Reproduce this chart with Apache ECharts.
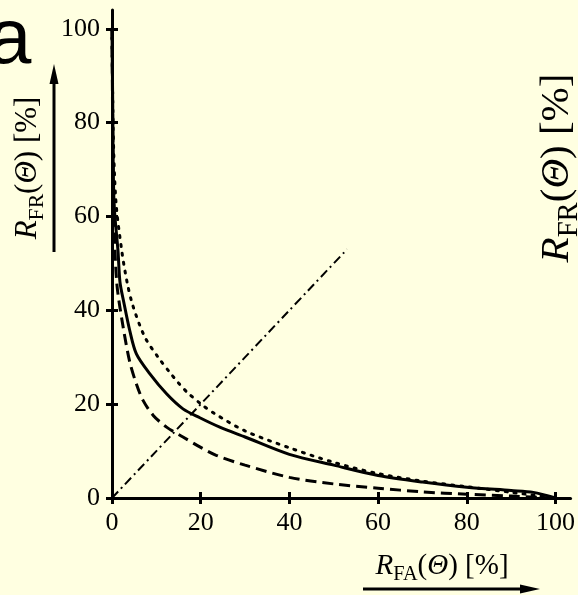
<!DOCTYPE html>
<html>
<head>
<meta charset="utf-8">
<script src="https://cdn.jsdelivr.net/npm/echarts@6/dist/echarts.min.js"></script>
<style>
  html, body { margin: 0; padding: 0; background: #ffffe1; }
  #chart { width: 578px; height: 595px; }
</style>
</head>
<body>
<div id="chart"></div>
<script>
// tick labels on both axes
const xTicks = [0, 20, 40, 60, 80, 100];
const yTicks = [0, 20, 40, 60, 80, 100];

// [R_FA, R_FR] pairs
const solidData = [
  [0, 100], [0.15, 85], [0.45, 63], [1.35, 52.7], [1.8, 46], [2.6, 42], [4, 35.7],
  [5.5, 30.7], [8.5, 26.5], [12.3, 22.2], [16, 19], [19.8, 17.1], [24.3, 15.1],
  [30, 13], [40, 9.3], [50, 7], [60, 4.8], [70, 3.4], [80, 2.3], [90, 1.6],
  [95, 1.2], [100, 0]
];
const dottedData = [
  [0, 100], [0.3, 77], [0.9, 63], [2.2, 52.7], [3.4, 46], [4.7, 41], [7.4, 34.3],
  [10.4, 30], [13, 26.8], [15, 24.5], [17.1, 22.4], [20.1, 20], [23.1, 18],
  [30, 14.3], [40, 10.7], [50, 7.6], [60, 5.2], [70, 3.6], [80, 2.4], [90, 1.2],
  [100, 0]
];
const dashedData = [
  [0, 100], [0.2, 75], [0.5, 58], [1.1, 45.6], [2.5, 36.5], [4, 29], [5.5, 24.3],
  [7, 20.8], [9.3, 17.6], [12.3, 15.1], [16, 13], [19.8, 10.9], [23.5, 9.1],
  [30, 7], [40, 4.4], [50, 3], [60, 2.1], [70, 1.3], [80, 0.8], [90, 0.4], [100, 0]
];
const diagData = [[0, 0], [53, 53]];

const chart = echarts.init(document.getElementById('chart'));

const serif = 'Liberation Serif';
const tickStyle = { color: '#000', width: 3 };

function makeAxis(ticks, max, main, margin) {
  return {
    type: 'value',
    min: 0,
    max: max,
    axisLine: { show: main, onZero: false, lineStyle: { color: '#000', width: 3 } },
    axisTick: { show: true, inside: !main, length: 6, customValues: ticks, lineStyle: tickStyle },
    axisLabel: {
      show: main, customValues: ticks, color: '#000',
      fontFamily: serif, fontSize: 26, margin: margin
    },
    splitLine: { show: false }
  };
}

const xMain = makeAxis(xTicks, 103.4, true, 12);
const xIn = makeAxis(xTicks, 103.4, false, 12);
xIn.position = 'bottom';
const yMain = makeAxis(yTicks, 104, true, 12);
const yIn = makeAxis(yTicks, 104, false, 12);
yIn.position = 'left';

function lineSeries(data, type, width, cap) {
  return {
    type: 'line',
    data: data,
    showSymbol: false,
    smooth: 0.3,
    clip: false,
    lineStyle: { color: '#000', width: width, type: type, cap: cap || 'butt' }
  };
}

const labelRich = function (size) {
  return {
    i: { fontFamily: serif, fontStyle: 'italic', fontSize: size, lineHeight: size * 1.3, verticalAlign: 'middle', fill: '#000' },
    n: { fontFamily: serif, fontSize: size, lineHeight: size * 1.3, verticalAlign: 'middle', fill: '#000' },
    s: { fontFamily: serif, fontSize: size * 0.7, lineHeight: size * 0.7, verticalAlign: 'bottom', fill: '#000' }
  };
};

chart.setOption({
  backgroundColor: '#ffffe1',
  animation: false,
  grid: { left: 112, right: 6, top: 10, bottom: 97, containLabel: false },
  xAxis: [xMain, xIn],
  yAxis: [yMain, yIn],
  series: [
    lineSeries(solidData, 'solid', 3),
    lineSeries(dottedData, [2, 7], 3, 'round'),
    lineSeries(dashedData, [11, 6], 3),
    lineSeries(diagData, [9, 4, 2, 4], 2)
  ],
  graphic: [
    {
      type: 'text', left: -12, top: 2,
      style: { text: 'a', font: '78px "Liberation Sans"', fill: '#000' }
    },
    {
      type: 'text', x: 28, y: 168, rotation: Math.PI / 2,
      style: {
        text: '{i|R}{s|FR}{n|(}{i|Θ}{n|) [%]}', rich: labelRich(31),
        align: 'center', verticalAlign: 'middle'
      }
    },
    {
      type: 'text', x: 557, y: 168, rotation: Math.PI / 2,
      style: {
        text: '{i|R}{s|FR}{n|(}{i|Θ}{n|) [%]}', rich: labelRich(41),
        align: 'center', verticalAlign: 'middle'
      }
    },
    {
      type: 'text', x: 442, y: 566,
      style: {
        text: '{i|R}{s|FA}{n|(}{i|Θ}{n|) [%]}', rich: labelRich(29),
        align: 'center', verticalAlign: 'middle'
      }
    },
    { type: 'line', shape: { x1: 54, y1: 252, x2: 54, y2: 80 }, style: { stroke: '#000', lineWidth: 3 } },
    { type: 'polygon', shape: { points: [[54, 64], [49.5, 84], [58.5, 84]] }, style: { fill: '#000' } },
    { type: 'line', shape: { x1: 363, y1: 589, x2: 525, y2: 589 }, style: { stroke: '#000', lineWidth: 3 } },
    { type: 'polygon', shape: { points: [[540, 589], [520, 584.5], [520, 593.5]] }, style: { fill: '#000' } }
  ]
});
</script>
</body>
</html>
